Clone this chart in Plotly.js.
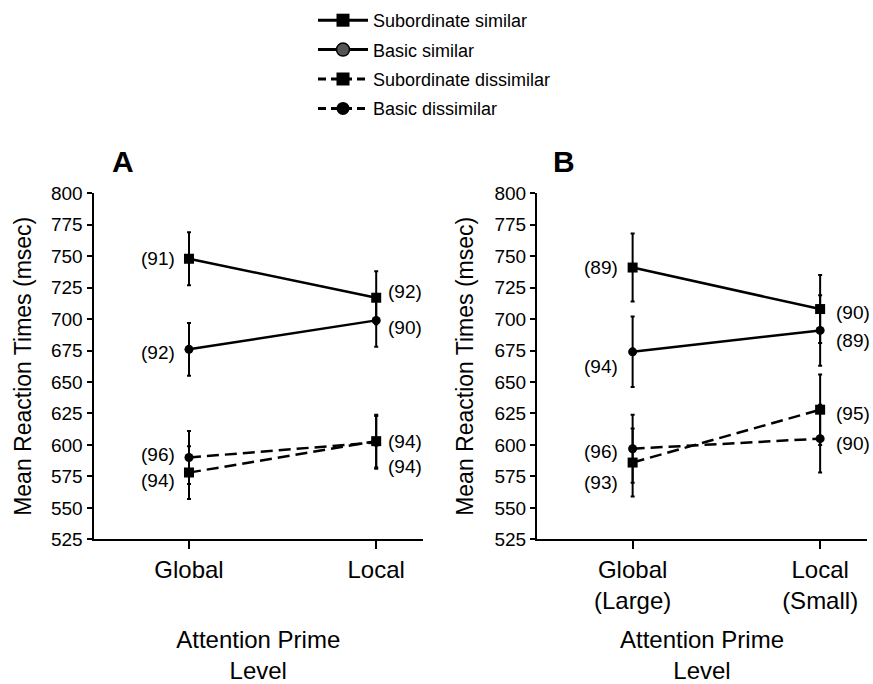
<!DOCTYPE html>
<html>
<head>
<meta charset="utf-8">
<script src="https://cdn.plot.ly/plotly-3.0.1.min.js"></script>
<style>html,body{margin:0;padding:0;background:#fff;}</style>
</head>
<body>
<div id="chart" style="width:873px;height:684px;"></div>
<script>
// ---------- data ----------
const catsA = ['Global', 'Local'];
const catsB = ['Global<br>(Large)', 'Local<br>(Small)'];
const seriesNames = ['Subordinate similar', 'Basic similar', 'Subordinate dissimilar', 'Basic dissimilar'];

// Panel A means (msec), error half-widths, and N labels
const subSimA = [748, 717];
const basSimA = [676, 699];
const subDisA = [578, 603];
const basDisA = [590, 602];
const subSimAErr = [21, 21];
const basSimAErr = [21, 21];
const subDisAErr = [21, 21];
const basDisAErr = [21, 21];
const subSimAN = [91, 92];
const basSimAN = [92, 90];
const subDisAN = [94, 94];
const basDisAN = [96, 94];

// Panel B
const subSimB = [741, 708];
const basSimB = [674, 691];
const subDisB = [586, 628];
const basDisB = [597, 605];
const subSimBErr = [27, 27];
const basSimBErr = [28, 28];
const subDisBErr = [27, 28];
const basDisBErr = [27, 27];
const subSimBN = [89, 90];
const basSimBN = [94, 89];
const subDisBN = [93, 95];
const basDisBN = [96, 90];

const yTicks = [525, 550, 575, 600, 625, 650, 675, 700, 725, 750, 775, 800];

// ---------- styles ----------
const FONT = 'Liberation Sans, Arial, Helvetica, sans-serif';
const styles = [
  {symbol: 'square', dash: 'solid', size: 10},
  {symbol: 'circle', dash: 'solid', size: 9},
  {symbol: 'square', dash: '12px,6px', size: 10},
  {symbol: 'circle', dash: '12px,6px', size: 9}
];
// label pixel offsets [global, local] per series
const labelShiftA = [[0, 6], [-3, -7], [-8, 0], [3, -24]];
const labelShiftB = [[0, -3], [-15, -10], [-20, -4], [-3, -5]];

const panels = [
  {xs: [0, 1], xa: 'x', ya: 'y', series: [subSimA, basSimA, subDisA, basDisA],
   errs: [subSimAErr, basSimAErr, subDisAErr, basDisAErr],
   ns: [subSimAN, basSimAN, subDisAN, basDisAN], shifts: labelShiftA, lx: [-12, 10]},
  {xs: [0, 1], xa: 'x2', ya: 'y2', series: [subSimB, basSimB, subDisB, basDisB],
   errs: [subSimBErr, basSimBErr, subDisBErr, basDisBErr],
   ns: [subSimBN, basSimBN, subDisBN, basDisBN], shifts: labelShiftB, lx: [-13, 14]}
];

const traces = [];
const annotations = [];
panels.forEach(p => {
  p.series.forEach((vals, i) => {
    const st = styles[i];
    traces.push({
      type: 'scatter', mode: 'lines+markers',
      x: p.xs, y: vals, xaxis: p.xa, yaxis: p.ya,
      showlegend: false, name: seriesNames[i],
      line: {color: '#000', width: 2.5, dash: st.dash},
      marker: {symbol: st.symbol, size: st.size, color: '#000'},
      error_y: {type: 'data', array: p.errs[i], visible: true, color: '#000', thickness: 2, width: 2}
    });
    vals.forEach((v, j) => {
      annotations.push({
        xref: p.xa, yref: p.ya, x: p.xs[j], y: v,
        text: '(' + p.ns[i][j] + ')', showarrow: false,
        xanchor: j === 0 ? 'right' : 'left', yanchor: 'middle',
        xshift: p.lx[j], yshift: p.shifts[i][j],
        font: {family: FONT, size: 19, color: '#000'}
      });
    });
  });
});

// legend-only entries
seriesNames.forEach((nm, i) => {
  const st = styles[i];
  traces.push({
    type: 'scatter', mode: 'lines+markers', x: [null], y: [null],
    name: nm, legendgroup: 'g' + i, showlegend: true,
    line: {color: '#000', width: 3, dash: st.dash === 'solid' ? 'solid' : '8px,5px'},
    marker: {symbol: st.symbol, size: 13, color: i === 1 ? '#555' : '#000',
             line: {color: '#000', width: i === 1 ? 1.5 : 0}}
  });
});

annotations.push({xref: 'paper', yref: 'paper', x: 123 / 873, y: 1 - 162 / 684, text: '<b>A</b>',
  showarrow: false, xanchor: 'center', yanchor: 'middle', font: {family: FONT, size: 30, color: '#000'}});
annotations.push({xref: 'paper', yref: 'paper', x: 564 / 873, y: 1 - 162 / 684, text: '<b>B</b>',
  showarrow: false, xanchor: 'center', yanchor: 'middle', font: {family: FONT, size: 30, color: '#000'}});

const yDom = [1 - 539.3 / 684, 1 - 193.3 / 684];
function xAxis(dom, cats, standoff) {
  return {
    domain: dom, range: [-0.51, 1.25], tickvals: [0, 1], ticktext: cats,
    showgrid: false, zeroline: false, showline: true, linecolor: '#000', linewidth: 2,
    ticks: 'outside', ticklen: 8, tickwidth: 2, tickcolor: '#000',
    tickfont: {family: FONT, size: 24, color: '#000'},
    title: {text: 'Attention Prime<br>Level', font: {family: FONT, size: 24, color: '#000'}, standoff: standoff},
    fixedrange: true
  };
}
function yAxis(anchor, standoff) {
  return {
    domain: yDom, range: [525, 800], tickvals: yTicks, anchor: anchor,
    showgrid: false, zeroline: false, showline: true, linecolor: '#000', linewidth: 2,
    ticks: 'outside', ticklen: 5, tickwidth: 2, tickcolor: '#000',
    tickfont: {family: FONT, size: 19, color: '#000'},
    title: {text: 'Mean Reaction Times (msec)', font: {family: FONT, size: 23, color: '#000'}, standoff: standoff},
    fixedrange: true
  };
}

const layout = {
  width: 873, height: 684,
  margin: {l: 0, r: 0, t: 0, b: 0},
  paper_bgcolor: '#fff', plot_bgcolor: '#fff',
  showlegend: true,
  legend: {x: 313 / 873, y: 1 - 2 / 684, xanchor: 'left', yanchor: 'top',
           traceorder: 'grouped', tracegroupgap: 3, itemwidth: 50,
           font: {family: FONT, size: 18, color: '#000'}, bgcolor: 'rgba(0,0,0,0)'},
  xaxis: Object.assign(xAxis([93.5 / 873, 423 / 873], catsA, 50), {anchor: 'y'}),
  yaxis: yAxis('x', 13),
  xaxis2: Object.assign(xAxis([537 / 873, 867 / 873], catsB, 18), {anchor: 'y2'}),
  yaxis2: yAxis('x2', 14),
  annotations: annotations
};

Plotly.newPlot('chart', traces, layout, {displayModeBar: false, staticPlot: true});
</script>
</body>
</html>
